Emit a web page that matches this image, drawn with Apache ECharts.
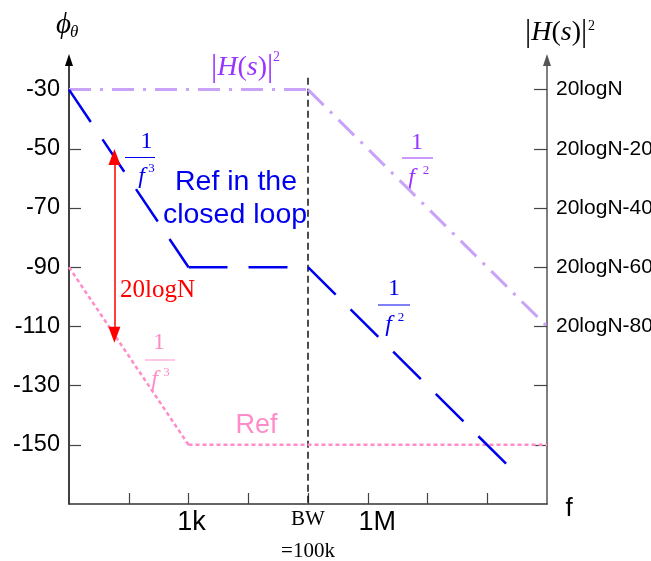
<!DOCTYPE html>
<html>
<head>
<meta charset="utf-8">
<script src="https://cdn.jsdelivr.net/npm/echarts@6/dist/echarts.min.js"></script>
<style>
html, body { margin: 0; padding: 0; background: #fff; }
#chart { width: 651px; height: 561px; }
</style>
</head>
<body>
<div id="chart"></div>
<script>
// x = decades from the left edge, y = dB
const xTicks = [1, 2, 3, 4, 5, 6, 7];
const xLabelValues = [2, 4, 5];
const xLabels = ['1k', 'BW', '1M'];
const yTicks = [-150, -130, -110, -90, -70, -50, -30];
const rightLabelValues = [-110, -90, -70, -50, -30];
const rightLabels = ['20logN-80', '20logN-60', '20logN-40', '20logN-20', '20logN'];

const hsCurve = [[0, -30], [4, -30], [8, -110]];
const closedLoop = [[0, -30], [2, -90], [4, -90], [7.33, -156.7]];
const refCurve = [[0, -90], [2, -150], [8, -150]];
const bwLine = [[4, -26], [4, -170]];
const gapArrow = [[0.76, -52.8], [0.76, -112.8]];

const serif = '"Liberation Serif","Times New Roman",serif';
const sans = '"Liberation Sans",Arial,sans-serif';
const blue = '#0000f0';
const purple = '#9933ff';
const lilac = '#c9a3f7';
const pink = '#ff8cc8';

let chartDom = document.getElementById('chart');
let myChart = echarts.init(chartDom);

// each straight piece is its own series so the dash pattern restarts at corners
function segments(pts, style, z) {
  let out = [];
  for (let i = 0; i < pts.length - 1; i++) {
    out.push({
      type: 'line',
      data: [pts[i], pts[i + 1]],
      symbol: 'none',
      silent: true,
      z: z,
      lineStyle: style
    });
  }
  return out;
}

function text(x, y, str, size, color, extra) {
  return {
    type: 'text', x: x, y: y, silent: true,
    style: Object.assign({
      text: str, fontSize: size, fill: color, fontFamily: sans,
      align: 'center', verticalAlign: 'middle'
    }, extra || {})
  };
}

// 1 / f^n drawn as a small fraction
function frac(cx, oneY, barY, x0, x1, fx, fy, ex, ey, n, color) {
  return [
    text(cx, oneY, '1', 24, color, { fontFamily: serif }),
    { type: 'line', silent: true, shape: { x1: x0, y1: barY, x2: x1, y2: barY },
      style: { stroke: color, lineWidth: 1 } },
    text(fx, fy, 'f', 24, color, { fontFamily: serif, fontStyle: 'italic' }),
    text(ex, ey, n, 13, color, { fontFamily: serif })
  ];
}

function hsText(x, y, color) {
  return {
    type: 'text', x: x, y: y, silent: true,
    style: {
      text: '{b||}{i|H}{n|(}{i|s}{n|)}{b||}',
      fill: color, align: 'left', verticalAlign: 'middle',
      rich: {
        b: { fontSize: 31, fontFamily: serif, fill: color },
        i: { fontSize: 28, fontFamily: serif, fontStyle: 'italic', fill: color },
        n: { fontSize: 28, fontFamily: serif, fill: color }
      }
    }
  };
}

let graphics = [
  text(56, 25, 'ϕ', 29, '#000', { fontFamily: serif, fontStyle: 'italic', align: 'left' }),
  text(70, 33, 'θ', 17, '#000', { fontFamily: serif, fontStyle: 'italic', align: 'left' }),
  hsText(211, 68, purple),
  text(273, 57, '2', 14, purple, { fontFamily: serif, align: 'left' }),
  hsText(525, 33, '#000'),
  text(588, 26, '2', 14, '#000', { fontFamily: serif, align: 'left' }),
  text(236, 182, 'Ref in the', 28.5, blue),
  text(235, 215.5, 'closed loop', 28.5, blue),
  text(120, 290, '20logN', 25, '#ff0000', { fontFamily: serif, align: 'left' }),
  text(256.5, 425.5, 'Ref', 27, pink),
  text(569, 509, 'f', 26, '#000')
];
graphics = graphics
  .concat(frac(146.5, 141.5, 157.5, 125, 155, 141.5, 176.5, 151.5, 169, '3', blue))
  .concat(frac(394, 288.5, 305, 378, 410, 388.5, 324.5, 401, 318, '2', blue))
  .concat(frac(417, 142.5, 158, 402, 433, 411.5, 177.5, 426, 171, '2', purple))
  .concat(frac(159, 342.5, 360, 145, 175, 154.5, 379.5, 166.5, 372.5, '3', pink));

let series = []
  .concat(segments(hsCurve, { color: lilac, width: 3, type: [22, 9, 3, 9] }, 3))
  .concat(segments(refCurve, { color: pink, width: 2.5, type: [4, 3] }, 3))
  .concat(segments(closedLoop, { color: blue, width: 2.5, type: [39, 21] }, 4))
  .concat(segments(bwLine, { color: '#111', width: 1.5, type: [7, 4] }, 2));

series.push({
  type: 'line',
  data: [],
  silent: true,
  markLine: {
    silent: true,
    animation: false,
    symbol: ['triangle', 'triangle'],
    symbolSize: [12, 16],
    label: { show: false },
    lineStyle: { color: '#ff0000', width: 1.5, type: 'solid' },
    emphasis: { disabled: true },
    data: [[{ coord: gapArrow[0] }, { coord: gapArrow[1] }]]
  }
});

let option = {
  animation: false,
  backgroundColor: '#fff',
  grid: { left: 69, right: 104, top: 60, bottom: 57, outerBoundsMode: 'none', containLabel: false },
  xAxis: {
    type: 'value',
    min: 0, max: 8, interval: 1,
    axisLine: { show: true, onZero: false, lineStyle: { color: '#333', width: 1.5 } },
    axisTick: { show: true, inside: true, length: 11, customValues: xTicks,
      lineStyle: { color: '#444', width: 1.2 } },
    splitLine: { show: false },
    axisLabel: {
      customValues: xLabelValues,
      margin: 6,
      formatter: function (v) {
        let s = xLabels[xLabelValues.indexOf(v)];
        if (s === 'BW') return '{bw|BW}\n{bw2|=100k}';
        if (s === '1M') return '{m|' + s + '}';
        return '{k|' + s + '}';
      },
      rich: {
        k: { fontSize: 27, fontFamily: sans, color: '#000', lineHeight: 26, padding: [0, 0, 0, 6] },
        m: { fontSize: 27, fontFamily: sans, color: '#000', lineHeight: 26, padding: [0, 0, 0, 19] },
        bw: { fontSize: 21, fontFamily: serif, color: '#000', lineHeight: 19 },
        bw2: { fontSize: 21, fontFamily: serif, color: '#000', lineHeight: 44 }
      }
    }
  },
  yAxis: [
    {
      type: 'value',
      position: 'left',
      min: -170, max: -20, interval: 10,
      axisLine: { show: true, onZero: false, symbol: ['none', 'triangle'], symbolSize: [8, 12],
        lineStyle: { color: '#000', width: 1.5 } },
      axisTick: { show: true, inside: true, length: 12, customValues: yTicks,
        lineStyle: { color: '#444', width: 1.2 } },
      splitLine: { show: false },
      axisLabel: { customValues: yTicks, margin: 9, fontSize: 23.5, fontFamily: sans, color: '#000' }
    },
    {
      type: 'value',
      position: 'right',
      min: -170, max: -20, interval: 10,
      axisLine: { show: true, onZero: false, symbol: ['none', 'triangle'], symbolSize: [8, 12],
        lineStyle: { color: '#555', width: 1.5 } },
      axisTick: { show: true, inside: true, length: 13, customValues: yTicks,
        lineStyle: { color: '#444', width: 1.2 } },
      splitLine: { show: false },
      axisLabel: {
        customValues: rightLabelValues, margin: 9, fontSize: 21, fontFamily: sans, color: '#000',
        formatter: function (v) { return rightLabels[rightLabelValues.indexOf(v)]; }
      }
    }
  ],
  series: series,
  graphic: graphics
};

myChart.setOption(option);
</script>
</body>
</html>
